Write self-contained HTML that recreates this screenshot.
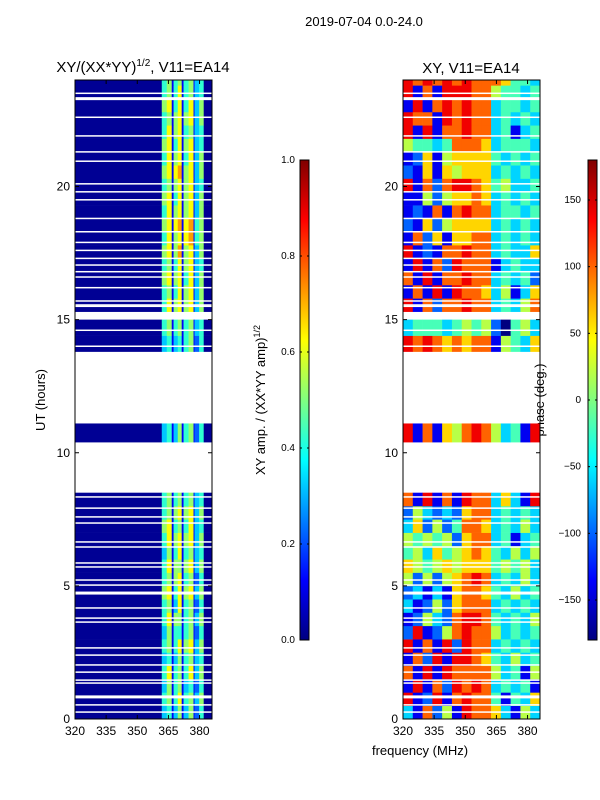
<!DOCTYPE html>
<html><head><meta charset="utf-8">
<style>
html,body{margin:0;padding:0;background:#fff;}
svg{display:block;font-family:"Liberation Sans","DejaVu Sans",sans-serif;}
</style></head>
<body>
<svg id="chart" width="600" height="800" viewBox="0 0 600 800">
<text x="364" y="26" font-size="13" text-anchor="middle">2019-07-04 0.0-24.0</text>
<text x="143" y="72" font-size="15" text-anchor="middle">XY/(XX*YY)<tspan font-size="10" dy="-6">1/2</tspan><tspan dy="6">, V11=EA14</tspan></text>
<text x="471" y="73" font-size="15" text-anchor="middle">XY, V11=EA14</text>
<text transform="translate(45,400) rotate(-90)" font-size="13" text-anchor="middle">UT (hours)</text>
<text x="420" y="755" font-size="13" text-anchor="middle">frequency (MHz)</text>
<text transform="translate(265,400) rotate(-90)" font-size="13" text-anchor="middle">XY amp. / (XX*YY amp)<tspan font-size="9" dy="-5">1/2</tspan></text>
<text transform="translate(544,400) rotate(-90)" font-size="13" text-anchor="middle">phase (deg.)</text>
<g id="gL"></g>
<g id="gR"></g>
<g id="gA"></g>
</svg>
<script>
// ---- data ----
const rowStart = [0,0.5,1,1.5,2,2.5,3,3.5,4,4.5,5,5.5,6,6.5,7,7.5,8,10.4,13.8,14.4,15.3,15.8,16.3,16.8,17.3,17.8,18.3,18.8,19.3,19.8,20.3,20.8,21.3,21.8,22.3,22.8,23.3,23.8];
const rowEnd   = [0.5,1,1.5,2,2.5,3,3.5,4,4.5,5,5.5,6,6.5,7,7.5,8,8.5,11.1,14.4,15.0,15.8,16.3,16.8,17.3,17.8,18.3,18.8,19.3,19.8,20.3,20.8,21.3,21.8,22.3,22.8,23.3,23.8,24];
const ampEdges = [320,361.8,364.2,366.6,367.5,369.5,371.4,372.3,374.7,377.1,377.6,379.8,382,386];
const ampRows = [
"0341351351240","0451461451350","0351451341240","0461451461350","0341351451340",
"0451461561350","0351441451240","0461551451350","0451361451240","0561461561350",
"0451561451240","0461551561350","0351461451340","0461561561350","0561451461340",
"0451561561350","0451451451340","0341351451240","0341341451240","0451451451340",
"0461561561350","0451461561350","0561561461350","0451461561340","0561571561350",
"0461561671450","0561671671450","0461561561350","0561461561350","0451561561340",
"0561671561350","0461561461350","0561461561340","0461561451340","0451561561350",
"0561461461350","0451461451340","0451451451340"];
const phaseCols = 14;
const phaseRows = [
"31725187763153","81281787741436","18172878734341","71818777753415","17281887643534",
"81718287734343","28125787753434","12532788743435","31252677734343","23131677643534",
"52525678734353","65456566645453","45364567643535","54545267734134","36252477634353",
"25323267734343","71817187736318","81716578753418","87876767715436","34443454520453",
"81727787734357","17181877635136","71817787734342","18172877713433","81217787734336",
"17261667734343","21625666634343","12171787734434","11525667634343","81727887645334",
"21616566634343","12615666643434","54434777634443","81817787734134","87718787734343",
"18178787734434","81718887754434","87878787776443"];
const flagLines = [0.26,0.53,0.83,1.35,1.46,1.76,2.03,2.40,2.67,3.64,3.79,4.17,4.73,5.03,5.22,5.71,5.86,6.46,6.65,7.36,7.59,7.92,8.34,14.0,14.6,15.5,15.55,15.7,16.2,16.6,16.8,17.05,17.3,17.6,17.9,18.3,18.8,19.5,19.8,20.1,20.95,21.3,21.9,22.6,23.3,23.5];
const thickFlags = [0.83,4.73,23.3];
const xTicks = [320,335,350,365,380];
const yTicks = [0,5,10,15,20];
const ampTicks = [0.0,0.2,0.4,0.6,0.8,1.0];
const phaseTicks = [-150,-100,-50,0,50,100,150];
// ---- scales ----
const yTop=80,yBot=719,fMin=320,fMax=386,tMax=24;
const yS=t=>yBot-(t/tMax)*(yBot-yTop);
const xSL=f=>75+(f-fMin)/(fMax-fMin)*(212-75);
const xSR=f=>403+(f-fMin)/(fMax-fMin)*(540-403);
function jet(v){v=Math.max(0,Math.min(1,v));
 const r=Math.min(Math.max(Math.min(4*v-1.5,-4*v+4.5),0),1);
 const g=Math.min(Math.max(Math.min(4*v-0.5,-4*v+3.5),0),1);
 const b=Math.min(Math.max(Math.min(4*v+0.5,-4*v+2.5),0),1);
 return `rgb(${Math.round(r*255)},${Math.round(g*255)},${Math.round(b*255)})`;}
const NS="http://www.w3.org/2000/svg";
function mk(tag,attrs,parent){const e=document.createElementNS(NS,tag);for(const k in attrs)e.setAttribute(k,attrs[k]);parent.appendChild(e);return e;}
const gL=document.getElementById('gL'),gR=document.getElementById('gR'),gA=document.getElementById('gA');
rowStart.forEach((t0,i)=>{
 const y0=yS(rowEnd[i]),y1=yS(t0);
 const a=ampRows[i];
 for(let j=0;j<a.length;j++){
  const x0=xSL(ampEdges[j]),x1=xSL(ampEdges[j+1]);
  const c=mk('rect',{x:x0,y:y0,width:x1-x0+0.3,height:y1-y0+0.3,fill:jet(+a[j]/10+0.02)},gL);
  
  
 }
 const p=phaseRows[i];
 for(let j=0;j<p.length;j++){
  const f0=fMin+j*(fMax-fMin)/phaseCols,f1=fMin+(j+1)*(fMax-fMin)/phaseCols;
  const ph=-180+(+p[j])*40;
  const c=mk('rect',{x:xSR(f0),y:y0,width:xSR(f1)-xSR(f0)+0.3,height:y1-y0+0.3,fill:jet((ph+180)/360)},gR);
  
  
 }
});
flagLines.forEach(t=>{
 const h=thickFlags.includes(t)?3:1.5;
 [[75,212],[403,540]].forEach(([a,b])=>{
  const l=mk('rect',{x:a,y:yS(t)-h/2,width:b-a,height:h,fill:'#fff'},gA);
  
  
 });
});
[[75,212,xSL],[403,540,xSR]].forEach(([a,b,xs])=>{
 const fr=mk('rect',{x:a,y:yTop,width:b-a,height:yBot-yTop,fill:'none',stroke:'#000','stroke-width':1},gA);
 
 
 xTicks.forEach(v=>{const x=xs(v);
  mk('line',{x1:x,x2:x,y1:yBot,y2:yBot-4,stroke:'#000'},gA);
  mk('line',{x1:x,x2:x,y1:yTop,y2:yTop+4,stroke:'#000'},gA);
  const t=mk('text',{x:x,y:yBot+16,'font-size':12,'text-anchor':'middle'},gA);t.textContent=v;
  
  
 });
 yTicks.forEach(v=>{const y=yS(v);
  mk('line',{x1:a,x2:a+4,y1:y,y2:y,stroke:'#000'},gA);
  mk('line',{x1:b,x2:b-4,y1:y,y2:y,stroke:'#000'},gA);
  const t=mk('text',{x:a-5,y:y+4,'font-size':12,'text-anchor':'end'},gA);t.textContent=v;
  
  
 });
});
function colorbar(x,ticks,vmin,vmax,fmt,id){
 const defs=mk('defs',{},gA);
 const lg=mk('linearGradient',{id:id,x1:0,y1:1,x2:0,y2:0},defs);
 for(let i=0;i<=8;i++)mk('stop',{offset:i/8,'stop-color':jet(i/8)},lg);
 const r=mk('rect',{x:x,y:160,width:9,height:480,fill:`url(#${id})`,stroke:'#000','stroke-width':1},gA);
 
 
 ticks.forEach(v=>{const y=640-(v-vmin)/(vmax-vmin)*480;
  mk('line',{x1:x,x2:x+2,y1:y,y2:y,stroke:'#000'},gA);
  mk('line',{x1:x+9,x2:x+7,y1:y,y2:y,stroke:'#000'},gA);
  const t=mk('text',{x:x+(vmin<0?-7:-5),y:y+3,'font-size':10,'text-anchor':'end'},gA);t.textContent=fmt(v);
  
  
 });
}
colorbar(300,ampTicks,0,1,v=>v.toFixed(1),'gA1');
colorbar(588,phaseTicks,-180,180,v=>v<0?'\u2212'+(-v):''+v,'gP1');
</script>
</body></html>
